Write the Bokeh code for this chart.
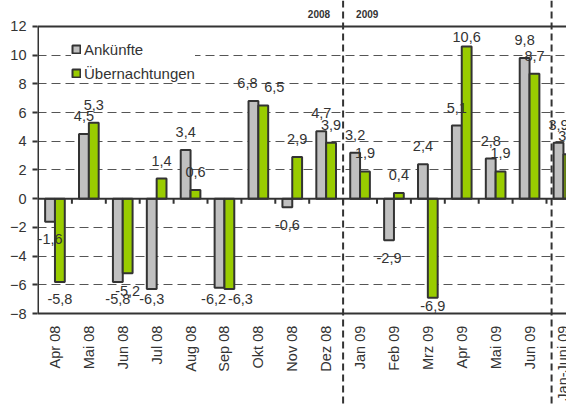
import math
from bokeh.plotting import figure
from bokeh.models import Range1d, FixedTicker, Span, Legend, LegendItem
from bokeh.core.properties import value
from bokeh.embed import file_html
from bokeh.resources import INLINE

# ---- data ----
categories = ["Apr 08", "Mai 08", "Jun 08", "Jul 08", "Aug 08", "Sep 08", "Okt 08",
              "Nov 08", "Dez 08", "Jan 09", "Feb 09", "Mrz 09", "Apr 09", "Mai 09",
              "Jun 09", "Jan-Juni 09"]
ankuenfte = [-1.6, 4.5, -5.8, -6.3, 3.4, -6.2, 6.8, -0.6, 4.7, 3.2, -2.9, 2.4, 5.1, 2.8, 9.8, 3.9]
uebernachtungen = [-5.8, 5.3, -5.2, 1.4, 0.6, -6.3, 6.5, 2.9, 3.9, 1.9, 0.4, -6.9, 10.6, 1.9, 8.7, 3.1]
y_ticks = [-8, -6, -4, -2, 0, 2, 4, 6, 8, 10, 12]
year_labels = ["2008", "2009"]
series_names = ["Ankünfte", "Übernachtungen"]

# ---- style ----
FONT = "Liberation Sans"
TXT = "#333333"
DARK = "#333333"
GRAY = "#C0C0C0"
GREEN = "#99CC00"
BAR_W = 0.29

ymin, ymax = y_ticks[0], y_ticks[-1]
n = len(categories)
year_split = categories.index("Jan 09")
total_split = categories.index("Jan-Juni 09")

p = figure(width=566, height=404, output_backend="svg", toolbar_location=None,
           x_range=Range1d(-0.015, 15.59), y_range=Range1d(-14.34, 13.81),
           x_axis_location=None, y_axis_location="left",
           min_border_left=37, min_border_right=0, min_border_top=0, min_border_bottom=0)
p.outline_line_color = None
p.background_fill_color = "white"
p.border_fill_color = "white"
p.xgrid.visible = False

yax = p.yaxis[0]
yax.ticker = FixedTicker(ticks=y_ticks)
yax.axis_line_color = None
yax.major_tick_out = 5
yax.major_tick_in = 0
yax.major_tick_line_color = DARK
yax.major_tick_line_width = 2
yax.minor_tick_line_color = None
yax.major_label_standoff = 6
yax.major_label_text_font = FONT
yax.major_label_text_font_size = "14.5px"
yax.major_label_text_color = TXT

p.ygrid.ticker = FixedTicker(ticks=y_ticks)
p.ygrid.grid_line_color = "#555555"
p.ygrid.grid_line_width = 1
p.ygrid.grid_line_dash = "9 5"

# bars
xc = [i + 0.5 for i in range(n)]
x_gray = [c - BAR_W / 2 for c in xc]
x_green = [c + BAR_W / 2 for c in xc]
r1 = p.vbar(x=x_gray, width=BAR_W, top=ankuenfte, bottom=0,
            fill_color=GRAY, line_color=DARK, line_width=2)
r2 = p.vbar(x=x_green, width=BAR_W, top=uebernachtungen, bottom=0,
            fill_color=GREEN, line_color=DARK, line_width=2)

# frame lines
for loc in (ymax, 0, ymin):
    p.add_layout(Span(location=loc, dimension="width", line_color=DARK, line_width=2))
p.segment(x0=[0], y0=[ymin], x1=[0], y1=[ymax], line_color=DARK, line_width=2)

# category ticks on zero line
bounds = list(range(1, n))
p.segment(x0=bounds, y0=[0] * len(bounds), x1=bounds, y1=[-0.35] * len(bounds),
          line_color=DARK, line_width=2)

# vertical dashed separators
for loc in (year_split, total_split + 0.15):
    p.add_layout(Span(location=loc, dimension="height", line_color=DARK,
                      line_width=2, line_dash="7 4"))

# data labels
def label_y(v):
    if v >= 0:
        return min(v + 1.25, 11.3)
    return max(v - 1.2, min(-7.0, v - 0.55))

def fmt(v):
    return f"{v:.1f}".replace(".", ",")

ya = [label_y(v) for v in ankuenfte]
yu = [label_y(v) for v in uebernachtungen]
# spread pairs of labels that would sit on the same line
off_a = [-6 if abs(a - u) < 0.5 else 0 for a, u in zip(ya, yu)]
off_u = [11 if abs(a - u) < 0.5 else 0 for a, u in zip(ya, yu)]

p.text(x=x_gray + x_green, y=ya + yu,
       text=[fmt(v) for v in ankuenfte] + [fmt(v) for v in uebernachtungen],
       x_offset=off_a + off_u,
       text_align="center", text_baseline="middle",
       text_font=value(FONT), text_font_size="14.5px", text_color=TXT)

# category labels (rotated)
p.text(x=xc, y=[ymin - 0.85] * n, text=categories, angle=math.pi / 2,
       text_align="right", text_baseline="middle",
       text_font=value(FONT), text_font_size="14.5px", text_color=TXT)

# year labels
p.text(x=[year_split, year_split], y=[ymax + 0.84] * 2, text=year_labels,
       x_offset=[-13, 13], text_align=["right", "left"], text_baseline="middle",
       text_font=value(FONT), text_font_size="10px", text_font_style="bold",
       text_color=TXT)

legend = Legend(items=[LegendItem(label=series_names[0], renderers=[r1]),
                       LegendItem(label=series_names[1], renderers=[r2])],
                location=(34, 322), padding=3, spacing=6, margin=0,
                label_height=18, glyph_height=10, glyph_width=10, label_standoff=3,
                label_text_font=FONT, label_text_font_size="15px",
                label_text_color=TXT, border_line_color=None,
                background_fill_color="white", background_fill_alpha=1.0)
p.add_layout(legend, "center")

open("out.html", "w").write(file_html(p, INLINE))
